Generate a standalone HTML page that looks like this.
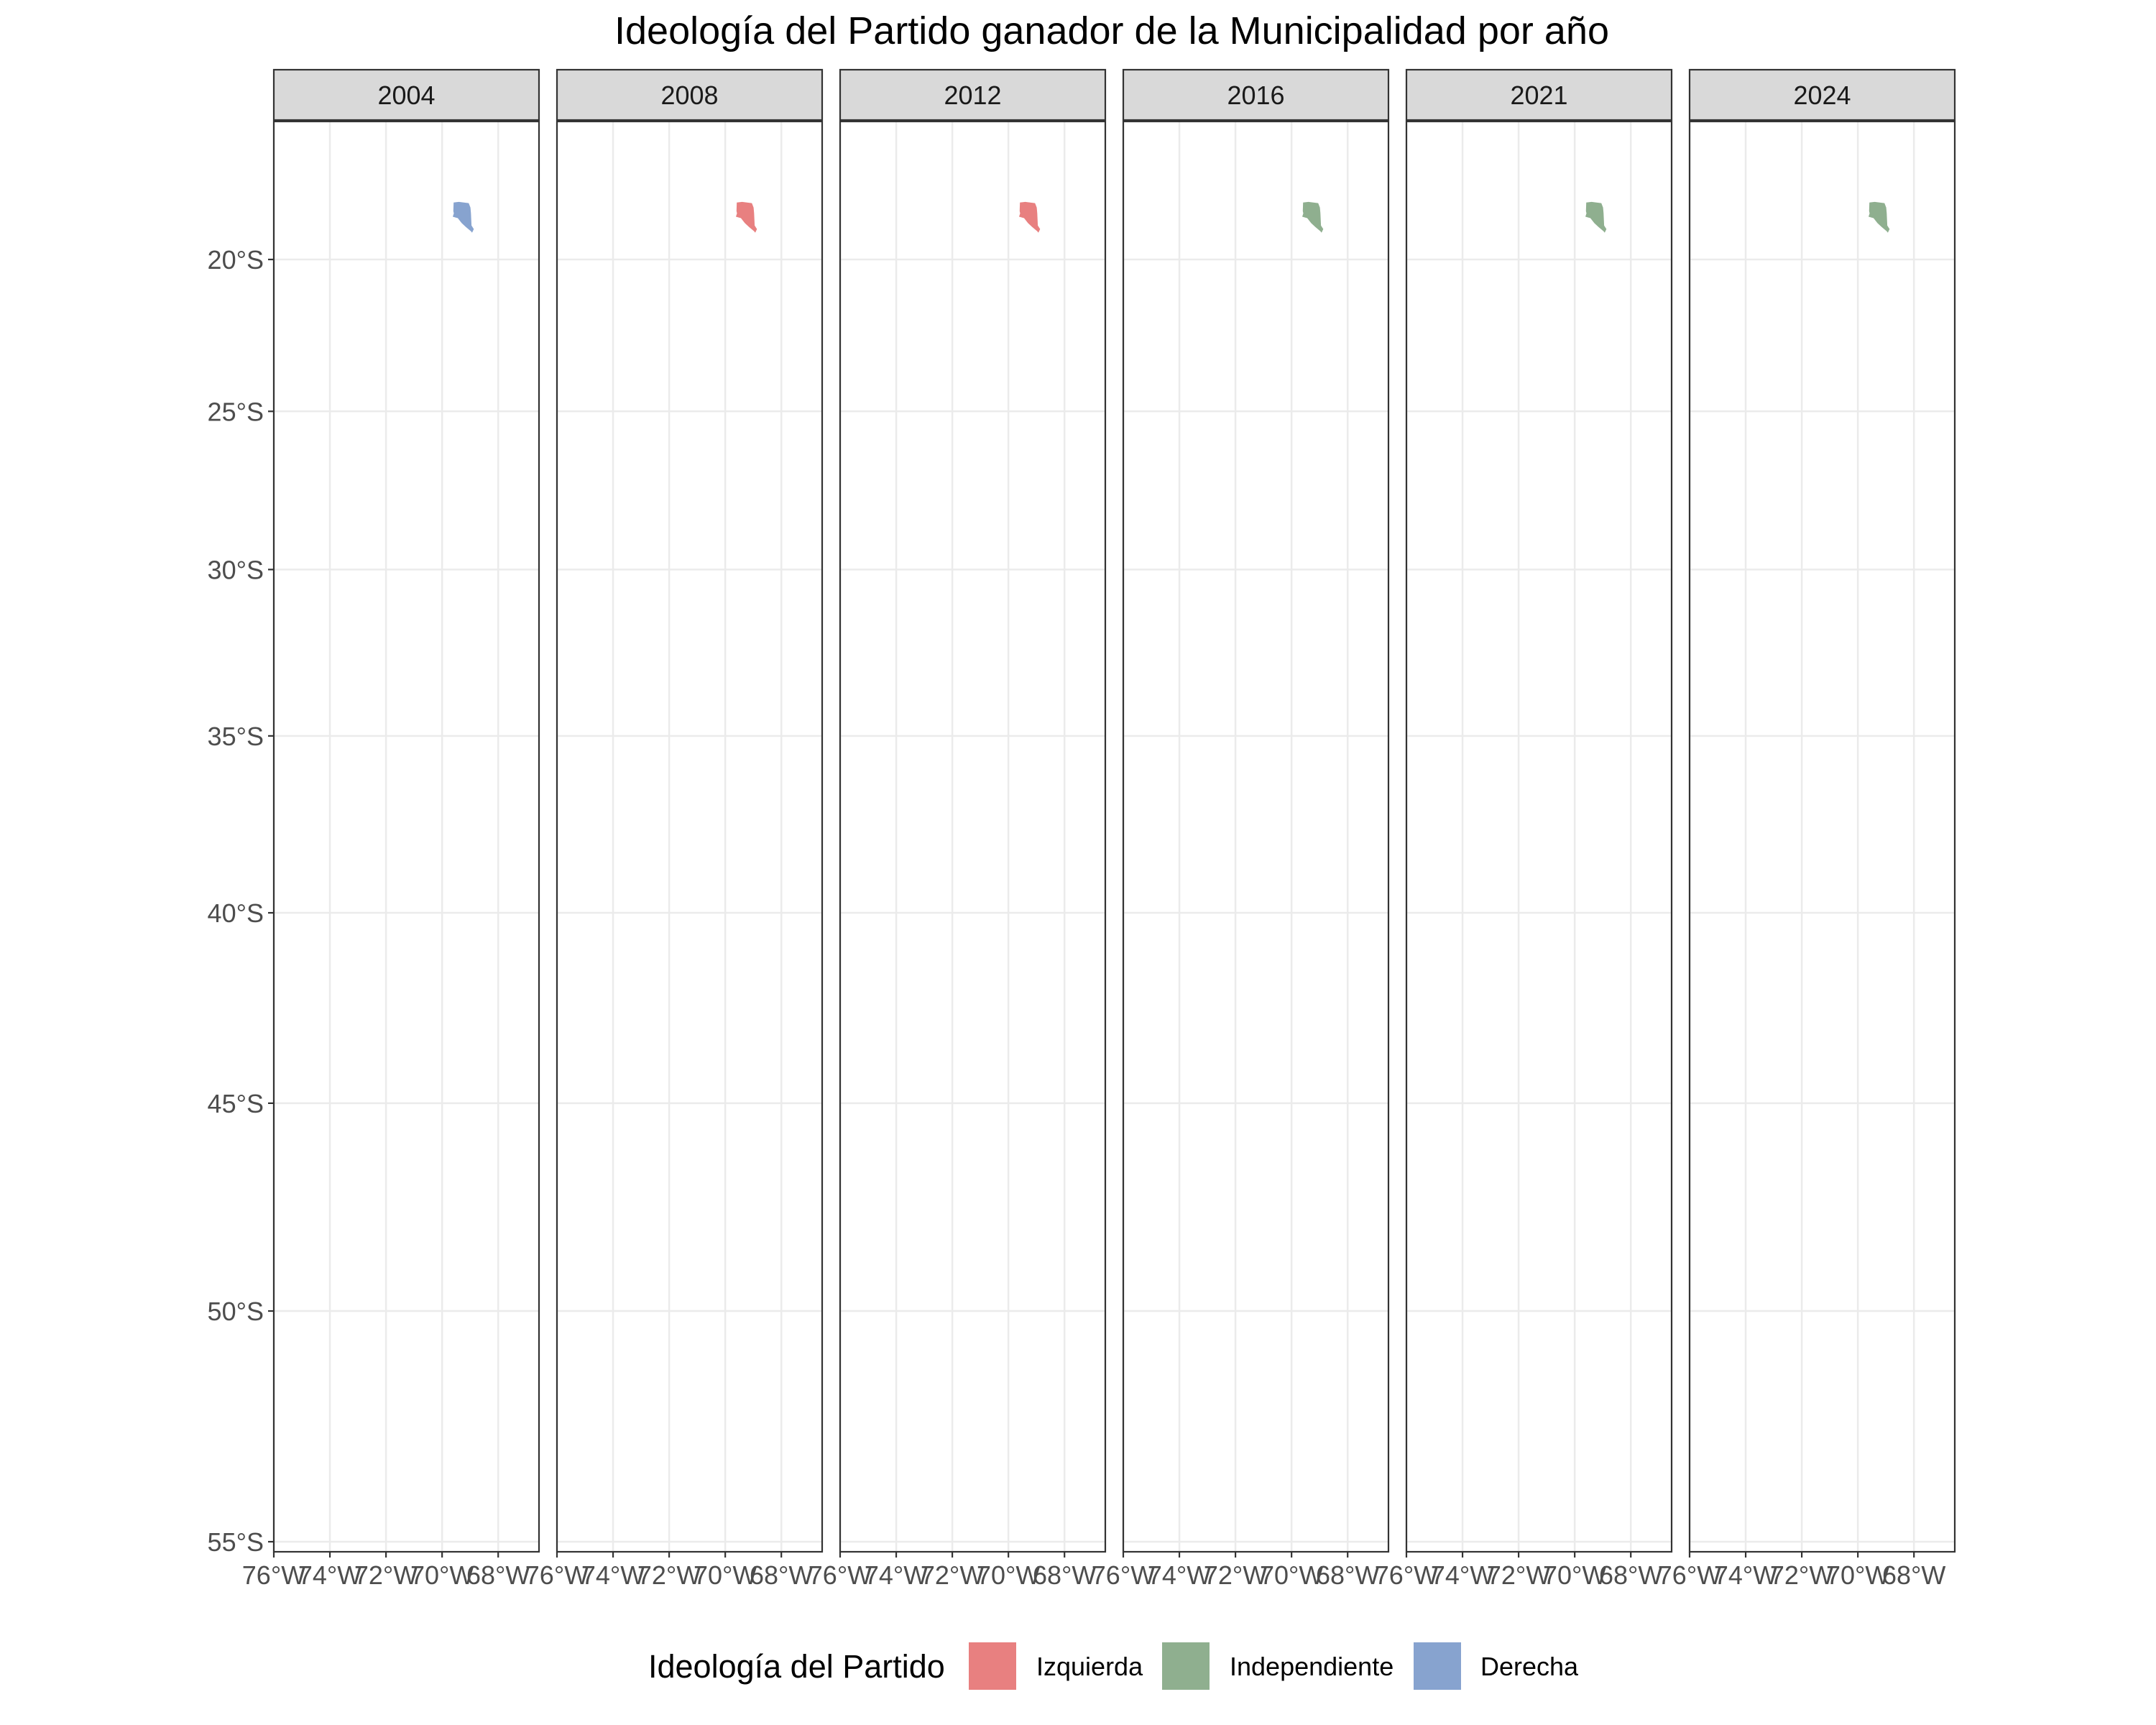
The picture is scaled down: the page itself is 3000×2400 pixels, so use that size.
<!DOCTYPE html>
<html><head><meta charset="utf-8">
<style>
html,body{margin:0;padding:0;background:#fff;}
svg{display:block;font-family:"Liberation Sans",Arial,sans-serif;}
</style></head>
<body>
<svg id="chart" width="3000" height="2400" viewBox="0 0 3000 2400" xmlns="http://www.w3.org/2000/svg">
<rect x="0" y="0" width="3000" height="2400" fill="#fff"/>
<text x="1547" y="61" text-anchor="middle" font-size="54" fill="#000">Ideología del Partido ganador de la Municipalidad por año</text>
<g id="panels"></g>
<g id="legend">
<text x="902" y="2334" font-size="45" fill="#000">Ideología del Partido</text>
</g>
</svg>
<script>
const years = ["2004","2008","2012","2016","2021","2024"];
const ideology = ["Derecha","Izquierda","Izquierda","Independiente","Independiente","Independiente"];
const categories = ["Izquierda","Independiente","Derecha"];
const categoryColors = ["#E88080","#8FAF8F","#87A3CF"];
const lonTicks = [-76,-74,-72,-70,-68];
const lonTickLabels = ["76°W","74°W","72°W","70°W","68°W"];
const latTicks = [-20,-25,-30,-35,-40,-45,-50,-55];
const latTickLabels = ["20°S","25°S","30°S","35°S","40°S","45°S","50°S","55°S"];
const shapeLon = [-69.59,-69.40,-69.05,-68.99,-68.97,-68.95,-68.87,-68.93,-68.97,-69.15,-69.30,-69.44,-69.62,-69.58,-69.60];
const shapeLat = [-18.08,-18.06,-18.10,-18.25,-18.44,-18.86,-18.98,-19.10,-19.05,-18.91,-18.78,-18.61,-18.56,-18.45,-18.37];

const NS="http://www.w3.org/2000/svg";
const panelsG=document.getElementById('panels');
const panelLeft0=381, pitch=394, panelW=369, panelTop=169, panelBottom=2159, stripTop=97, stripBottom=167;
const pxPerRad=2236, y20=361;
function merc(lat){const r=Math.abs(lat)*Math.PI/180;return Math.log(Math.tan(Math.PI/4+r/2));}
function yScale(lat){return y20+(merc(lat)-merc(-20))*pxPerRad;}
function xScale(lon,p){return panelLeft0+p*pitch+(lon+76)*Math.PI/180*pxPerRad;}
function mk(tag,attrs,parent){const e=document.createElementNS(NS,tag);for(const k in attrs)e.setAttribute(k,attrs[k]);parent.appendChild(e);return e;}

years.forEach((yr,p)=>{
  const L=panelLeft0+p*pitch;
  const g=mk('g',{},panelsG);
  
  
  const bg=mk('rect',{x:L,y:panelTop,width:panelW,height:panelBottom-panelTop,fill:'#fff'},g);
  
  
  latTicks.forEach(t=>{
    const y=yScale(t);
    const l=mk('line',{x1:L,x2:L+panelW,y1:y,y2:y,stroke:'#EBEBEB','stroke-width':2.5},g);
    
    
  });
  lonTicks.forEach(t=>{
    const x=xScale(t,p);
    const l=mk('line',{x1:x,x2:x,y1:panelTop,y2:panelBottom,stroke:'#EBEBEB','stroke-width':2.5},g);
    
    
  });
  const ci=categories.indexOf(ideology[p]);
  const pts=shapeLon.map((lo,i)=>xScale(lo,p).toFixed(1)+','+yScale(shapeLat[i]).toFixed(1)).join(' ');
  const poly=mk('polygon',{points:pts,fill:categoryColors[ci]},g);
  
  
  const border=mk('rect',{x:L,y:panelTop,width:panelW,height:panelBottom-panelTop,fill:'none',stroke:'#333','stroke-width':2.2},g);
  
  
  const strip=mk('rect',{x:L,y:stripTop,width:panelW,height:stripBottom-stripTop,fill:'#D9D9D9',stroke:'#333','stroke-width':2.2},g);
  
  
  const st=mk('text',{x:L+panelW/2,y:(stripTop+stripBottom)/2+13,'text-anchor':'middle','font-size':36,fill:'#1A1A1A'},g);
  st.textContent=yr;
  
  
  lonTicks.forEach((t,i)=>{
    const x=xScale(t,p);
    const tk=mk('line',{x1:x,x2:x,y1:panelBottom,y2:panelBottom+8,stroke:'#333','stroke-width':2.2},g);
    
    
    const tl=mk('text',{x:x,y:panelBottom+45,'text-anchor':'middle','font-size':36,fill:'#4D4D4D'},g);
    tl.textContent=lonTickLabels[i];
    
    
  });
  if(p===0){
    latTicks.forEach((t,i)=>{
      const y=yScale(t);
      const tk=mk('line',{x1:L-8,x2:L,y1:y,y2:y,stroke:'#333','stroke-width':2.2},g);
      
      
      const tl=mk('text',{x:L-14,y:y+13,'text-anchor':'end','font-size':36,fill:'#4D4D4D'},g);
      tl.textContent=latTickLabels[i];
      
      
    });
  }
});

const legend=document.getElementById('legend');
const keyX=[1348,1617,1967], labelX=[1442,1711,2060];
categories.forEach((c,i)=>{
  const k=mk('rect',{x:keyX[i],y:2285,width:66,height:66,fill:categoryColors[i]},legend);
  
  
  const t=mk('text',{x:labelX[i],y:2331,'font-size':36,fill:'#000'},legend);
  t.textContent=c;
  
  
});
</script>
</body></html>
